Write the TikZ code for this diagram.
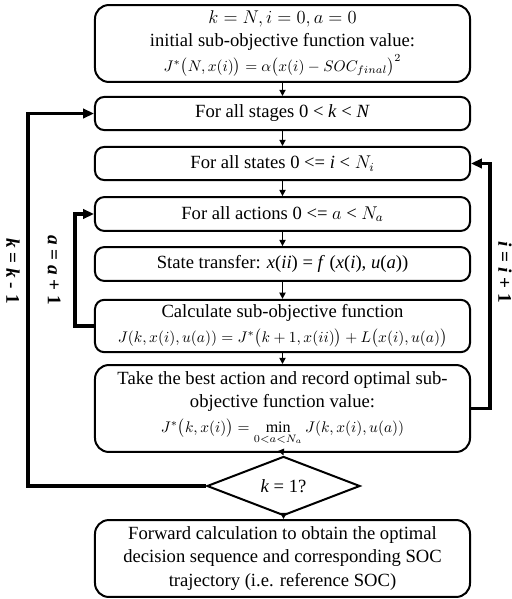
\documentclass[tikz,border=0pt]{standalone}
\usepackage{amsmath}
\usepackage{fontspec}
\setmainfont{Liberation Serif}
\usetikzlibrary{arrows.meta,shapes.geometric}

\newcommand{\objeq}[1]{{\fontsize{10.4}{14}\selectfont$#1$}}

\tikzset{
	stagebox/.style={draw, line width=1.3pt, rounded corners=6pt, minimum width=243.75pt, align=center, inner sep=1pt, font=\fontsize{12.1}{15}\selectfont},
	bigbox/.style={stagebox, rounded corners=9pt},
	flow/.style={-{Triangle[length=4pt,width=4pt]}, line width=0.9pt},
	loopline/.style={-{Triangle[length=7pt,width=6pt]}, line width=2pt},
	looplabel/.style={rotate=-90, font=\fontsize{12.5}{13}\selectfont\bfseries},
}

\begin{document}
\begin{tikzpicture}[x=0.65pt,y=-0.65pt]
		\useasboundingbox (0,0) rectangle (512,599);

		\node[bigbox, minimum height=50pt] (init) at (282.5,43.5) {{\fontsize{11.5}{14}\selectfont$k = N, i = 0, a = 0$}\\ initial sub-objective function value:\\[1pt] \objeq{J^{*}\bigl(N, x(i)\bigr) = \alpha\bigl(x(i) - SOC_{final}\bigr)^{2}}};
		\node[stagebox, minimum height=21.5pt] (stages) at (282.5,113.5) {For all stages 0 < \textit{k} < \textit{N}};
		\node[stagebox, minimum height=21.5pt] (states) at (282.5,163.5) {For all states 0 <= \textit{i} < $N_i$};
		\node[stagebox, minimum height=22pt] (actions) at (282.5,214) {For all actions 0 <= $a$ < $N_a$};
		\node[stagebox, minimum height=22pt] (trans) at (282.5,264) {State transfer: \textit{x}(\textit{ii}) = \textit{f} (\textit{x}(\textit{i}), \textit{u}(\textit{a}))};
		\node[stagebox, minimum height=34pt] (calc) at (282.5,326) {Calculate sub-objective function\\[1pt] \objeq{J(k, x(i), u(a)) = J^{*}\bigl(k + 1, x(ii)\bigr) + L\bigl(x(i), u(a)\bigr)}};
		\node[bigbox, minimum height=56.5pt] (best) at (282.5,408.5) {Take the best action and record optimal sub-\\ objective function value:\\[1pt] \objeq{J^{*}\bigl(k, x(i)\bigr) = \min\limits_{0<a<N_a} J(k, x(i), u(a))}};
		\node[draw, diamond, line width=1.3pt, minimum width=99.5pt, minimum height=26pt, inner sep=0pt, font=\fontsize{12.1}{13}\selectfont] (last) at (283.5,486) {\textit{k} = 1?};
		\node[bigbox, minimum height=50pt] (fwd) at (282.5,558.5) {Forward calculation to obtain the optimal\\ decision sequence and corresponding SOC\\ trajectory (i.e. reference SOC)};

		\draw[flow] (init) -- (stages);
		\draw[flow] (stages) -- (states);
		\draw[flow] (states) -- (actions);
		\draw[flow] (actions) -- (trans);
		\draw[flow] (trans) -- (calc);
		\draw[flow] (calc) -- (best);
		\draw[flow] (best.south) -- (last.north);
		\draw[flow] (last.south) -- (fwd);

		\coordinate (kback) at (28,300);
		\coordinate (aback) at (75,270);
		\coordinate (iback) at (490,280);

		\draw[loopline] (last.west) -| (kback) |- (stages.west);
		\draw[loopline] (calc.west) -| (aback) |- (actions.west);
		\draw[loopline] (best.east) -| (iback) |- (states.east);

		\node[looplabel] (klabel) at (13,271) {\textit{k} = \textit{k} - 1};
		\node[looplabel] (alabel) at (54,270) {\textit{a} = \textit{a} + 1};
		\node[looplabel] (ilabel) at (505,272) {\textit{i} = \textit{i} + 1};
\end{tikzpicture}
\end{document}
